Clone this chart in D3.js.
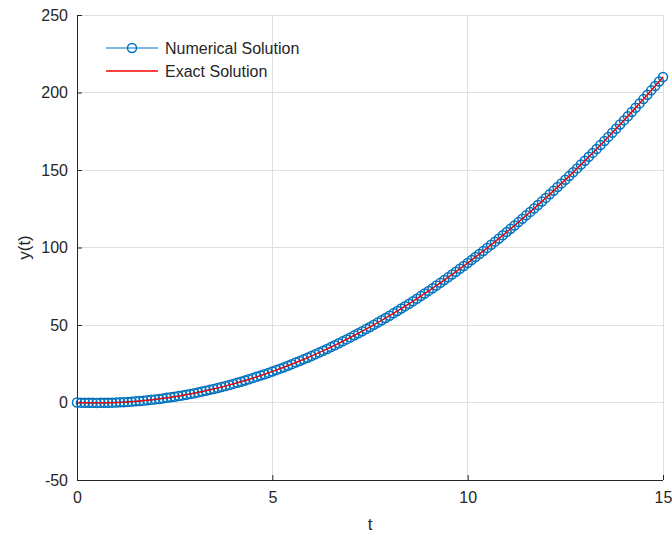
<!DOCTYPE html>
<html>
<head>
<meta charset="utf-8">
<script src="https://cdn.jsdelivr.net/npm/d3@7"></script>
<style>
html,body{margin:0;padding:0;background:#fff;}
svg text{font-family:"Liberation Sans",Arial,Helvetica,sans-serif;fill:#262626;}
</style>
</head>
<body>
<svg id="chart" width="672" height="533"></svg>
<script>
// time samples (step 0.1 from 0 to 15)
const tValues = d3.range(0, 151).map(k => k / 10);
// numerical solution values
const numericalValues = [
0,-0.09,-0.16,-0.21,-0.24,-0.25,-0.24,-0.21,-0.16,-0.09,
0,0.11,0.24,0.39,0.56,0.75,0.96,1.19,1.44,1.71,
2.0,2.31,2.64,2.99,3.36,3.75,4.16,4.59,5.04,5.51,
6.0,6.51,7.04,7.59,8.16,8.75,9.36,9.99,10.64,11.31,
12.0,12.71,13.44,14.19,14.96,15.75,16.56,17.39,18.24,19.11,
20.0,20.91,21.84,22.79,23.76,24.75,25.76,26.79,27.84,28.91,
30.0,31.11,32.24,33.39,34.56,35.75,36.96,38.19,39.44,40.71,
42.0,43.31,44.64,45.99,47.36,48.75,50.16,51.59,53.04,54.51,
56.0,57.51,59.04,60.59,62.16,63.75,65.36,66.99,68.64,70.31,
72.0,73.71,75.44,77.19,78.96,80.75,82.56,84.39,86.24,88.11,
90.0,91.91,93.84,95.79,97.76,99.75,101.76,103.79,105.84,107.91,
110.0,112.11,114.24,116.39,118.56,120.75,122.96,125.19,127.44,129.71,
132.0,134.31,136.64,138.99,141.36,143.75,146.16,148.59,151.04,153.51,
156.0,158.51,161.04,163.59,166.16,168.75,171.36,173.99,176.64,179.31,
182.0,184.71,187.44,190.19,192.96,195.75,198.56,201.39,204.24,207.11,
210.0
];
// exact solution values (same sampling)
const exactValues = numericalValues.slice();
const xTicks = [0, 5, 10, 15];
const yTicks = [-50, 0, 50, 100, 150, 200, 250];
const legendLabels = ["Numerical Solution", "Exact Solution"];
const xLabel = "t";
const yLabel = "y(t)";

const svg = d3.select("#chart");
const L = 77, R = 663, T = 15, B = 480;
const x = d3.scaleLinear().domain([0, 15]).range([L, R]);
const y = d3.scaleLinear().domain([-50, 250]).range([B, T]);
const blue = "#0072BD", red = "#FF0000", axisCol = "#262626";
const fmt = d => String(d);

// grid
const grid = svg.append("g");
grid.selectAll(".gx").data(xTicks.slice(1)).enter().append("line")
  .attr("x1", d => x(d)).attr("x2", d => x(d)).attr("y1", T).attr("y2", B)
  .attr("stroke", "#dfdfdf").attr("stroke-width", 1).attr("shape-rendering", "crispEdges");
grid.selectAll(".gy").data(yTicks.slice(1)).enter().append("line")
  .attr("x1", L).attr("x2", R).attr("y1", d => y(d)).attr("y2", d => y(d))
  .attr("stroke", "#dfdfdf").attr("stroke-width", 1).attr("shape-rendering", "crispEdges");

// axes
const xAxis = d3.axisBottom(x).tickValues(xTicks).tickSize(-5).tickPadding(12).tickFormat(fmt);
const yAxis = d3.axisLeft(y).tickValues(yTicks).tickSize(-5).tickPadding(9).tickFormat(fmt);
const gx = svg.append("g").attr("transform", `translate(0,${B})`).call(xAxis);
const gy = svg.append("g").attr("transform", `translate(${L},0)`).call(yAxis);
[gx, gy].forEach(g => {
  g.selectAll(".tick line").attr("stroke", axisCol);
  g.selectAll(".tick text").style("font-size", "16px").attr("fill", axisCol);
  g.select(".domain").remove();
});
svg.append("line").attr("x1", L).attr("x2", R).attr("y1", B + 0.5).attr("y2", B + 0.5).attr("stroke", axisCol);
svg.append("line").attr("x1", L + 0.5).attr("x2", L + 0.5).attr("y1", T).attr("y2", B).attr("stroke", axisCol);

// axis labels
svg.append("text").attr("x", (L + R) / 2).attr("y", 530).attr("text-anchor", "middle")
  .style("font-size", "17px").text(xLabel);
svg.append("text").attr("transform", `translate(30,${(T + B) / 2}) rotate(-90)`)
  .attr("text-anchor", "middle").style("font-size", "17px").text(yLabel);

// numerical solution line + markers
const numData = tValues.map((t, i) => [t, numericalValues[i]]);
const exData = tValues.map((t, i) => [t, exactValues[i]]);
const line = d3.line().x(d => x(d[0])).y(d => y(d[1]));
svg.append("path").datum(numData).attr("d", line).attr("fill", "none")
  .attr("stroke", blue).attr("stroke-width", 1.2);
svg.append("g").selectAll("circle").data(numData).enter().append("circle")
  .attr("cx", d => x(d[0])).attr("cy", d => y(d[1])).attr("r", 4.5)
  .attr("fill", "none").attr("stroke", blue).attr("stroke-width", 1.5);
svg.append("path").datum(exData).attr("d", line).attr("fill", "none")
  .attr("stroke", red).attr("stroke-width", 1.3);

// legend
const lg = svg.append("g");
lg.append("line").attr("x1", 106).attr("x2", 158).attr("y1", 48).attr("y2", 48).attr("stroke", blue).attr("stroke-width", 1.2);
lg.append("circle").attr("cx", 132).attr("cy", 48).attr("r", 4.5).attr("fill", "none").attr("stroke", blue).attr("stroke-width", 1.5);
lg.append("line").attr("x1", 106).attr("x2", 158).attr("y1", 71).attr("y2", 71).attr("stroke", red).attr("stroke-width", 1.3);
lg.append("text").attr("x", 165).attr("y", 54).style("font-size", "16px").text(legendLabels[0]);
lg.append("text").attr("x", 165).attr("y", 77).style("font-size", "16px").text(legendLabels[1]);
</script>
</body>
</html>
